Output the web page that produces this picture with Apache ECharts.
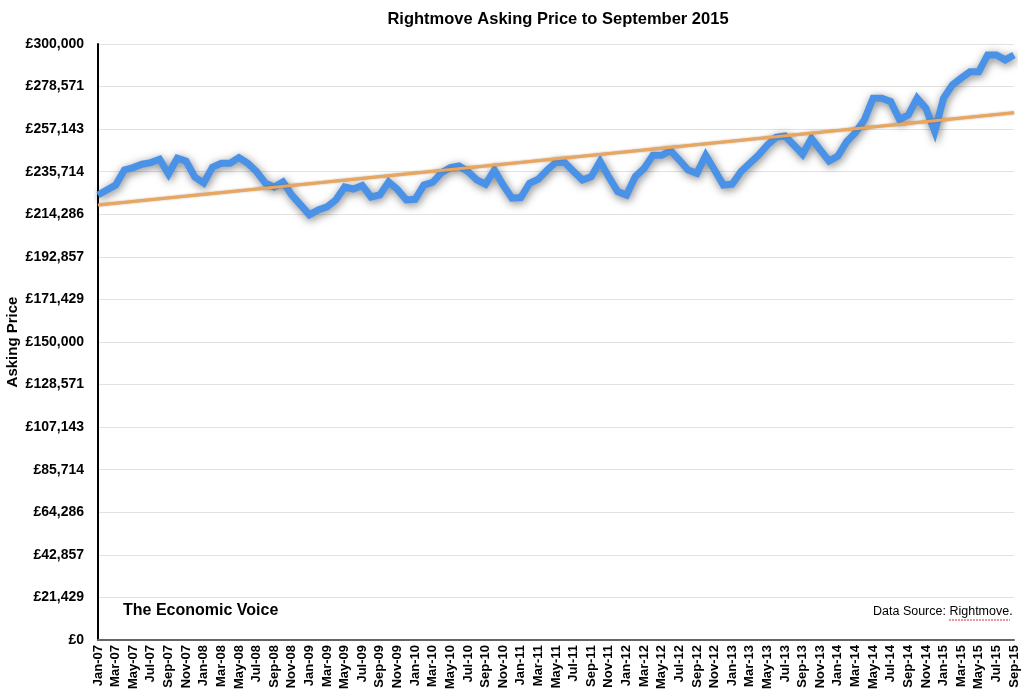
<!DOCTYPE html>
<html>
<head>
<meta charset="utf-8">
<script src="https://cdn.jsdelivr.net/npm/echarts@6/dist/echarts.min.js"></script>
<style>
html,body{margin:0;padding:0;background:#fff;}
#chart{width:1024px;height:695px;}
</style>
</head>
<body>
<div id="chart"></div>
<script>
const categories = [
'Jan-07','Feb-07','Mar-07','Apr-07','May-07','Jun-07','Jul-07','Aug-07','Sep-07','Oct-07','Nov-07','Dec-07',
'Jan-08','Feb-08','Mar-08','Apr-08','May-08','Jun-08','Jul-08','Aug-08','Sep-08','Oct-08','Nov-08','Dec-08',
'Jan-09','Feb-09','Mar-09','Apr-09','May-09','Jun-09','Jul-09','Aug-09','Sep-09','Oct-09','Nov-09','Dec-09',
'Jan-10','Feb-10','Mar-10','Apr-10','May-10','Jun-10','Jul-10','Aug-10','Sep-10','Oct-10','Nov-10','Dec-10',
'Jan-11','Feb-11','Mar-11','Apr-11','May-11','Jun-11','Jul-11','Aug-11','Sep-11','Oct-11','Nov-11','Dec-11',
'Jan-12','Feb-12','Mar-12','Apr-12','May-12','Jun-12','Jul-12','Aug-12','Sep-12','Oct-12','Nov-12','Dec-12',
'Jan-13','Feb-13','Mar-13','Apr-13','May-13','Jun-13','Jul-13','Aug-13','Sep-13','Oct-13','Nov-13','Dec-13',
'Jan-14','Feb-14','Mar-14','Apr-14','May-14','Jun-14','Jul-14','Aug-14','Sep-14','Oct-14','Nov-14','Dec-14',
'Jan-15','Feb-15','Mar-15','Apr-15','May-15','Jun-15','Jul-15','Aug-15','Sep-15'
];
const askingPrice = [
224000,226500,229000,236600,237800,239500,240300,242000,234600,242500,241000,233000,
230000,238000,240000,240000,242800,240000,235800,230000,228000,230600,224000,219000,
214000,216500,218000,221500,228000,227000,228800,223000,224000,230600,226800,221500,
221800,229000,230400,235200,237800,238600,235800,231600,229400,236600,229000,222400,
222700,229900,232000,236600,240500,240300,235800,231600,233200,240900,233000,225700,
224000,233200,237400,244000,244000,246300,241600,236600,234900,244000,236600,229000,
229400,235800,240000,244100,249200,253000,253700,249200,244500,252500,246700,241100,
243600,250800,255400,261700,272700,272700,271000,262000,264300,272700,267600,256000,
272700,279400,282800,286000,286000,294500,294500,292000,294500
];
// Trend line endpoints: [category index, value]
const trendPoints = [[0, 219000], [104, 265400]];
const yMax = 300000;
const yInterval = 300000 / 14;

const chart = echarts.init(document.getElementById('chart'), null, {renderer:'canvas'});
const font = '"Liberation Sans", Arial, Helvetica, sans-serif';
chart.setOption({
  backgroundColor:'#ffffff',
  animation:false,
  title:{
    text:'Rightmove Asking Price to September 2015',
    left:553, top:6, textAlign:'center',
    textStyle:{fontFamily:font,fontWeight:'bold',fontSize:16.5,color:'#000'}
  },
  grid:{left:98,right:10,top:44,bottom:55,containLabel:false,outerBoundsMode:'none'},
  xAxis:{
    type:'category',
    data:categories,
    boundaryGap:false,
    axisLine:{show:true,lineStyle:{color:'#666',width:2}},
    axisTick:{show:false},
    axisLabel:{
      interval:1, rotate:90, margin:5,
      fontFamily:font,fontWeight:'bold',fontSize:13,color:'#000'
    },
    splitLine:{show:false}
  },
  yAxis:{
    type:'value',
    min:0,max:yMax,interval:yInterval,
    name:'Asking Price',
    nameLocation:'middle',
    nameGap:78,
    nameMoveOverlap:false,
    nameRotate:90,
    nameTextStyle:{fontFamily:font,fontWeight:'bold',fontSize:15,color:'#000'},
    axisLine:{show:true,lineStyle:{color:'#000',width:2}},
    axisTick:{show:false},
    axisLabel:{
      margin:14,
      fontFamily:font,fontWeight:'bold',fontSize:14,color:'#000',
      formatter:function(v){return '£'+Math.round(v).toLocaleString('en-GB');}
    },
    splitLine:{show:true,lineStyle:{color:'#e2e2e2',width:1}}
  },
  series:[
    {
      type:'line',
      data:askingPrice,
      symbol:'none',
      lineStyle:{color:'#4a92e8',width:7,shadowColor:'rgba(0,0,0,0.5)',shadowBlur:9,shadowOffsetX:1,shadowOffsetY:2,join:'miter'},
      z:2
    },
    {
      type:'line',
      data:trendPoints,
      symbol:'none',
      lineStyle:{color:'#e8a65e',width:3,shadowColor:'rgba(120,60,0,0.5)',shadowBlur:2},
      z:3
    }
  ],
  graphic:[
    {type:'text',left:123,top:603,style:{text:'The Economic Voice',font:'bold 16px "Liberation Sans", Arial, sans-serif',fill:'#000'}},
    {type:'text',left:873,top:605,style:{text:'Data Source: Rightmove.',font:'12.5px "Liberation Sans", Arial, sans-serif',fill:'#000'}},
    {type:'line',shape:{x1:949,y1:620,x2:1010,y2:620},style:{stroke:'#d03030',lineWidth:1,lineDash:[2,1]}}
  ]
});
</script>
</body>
</html>
